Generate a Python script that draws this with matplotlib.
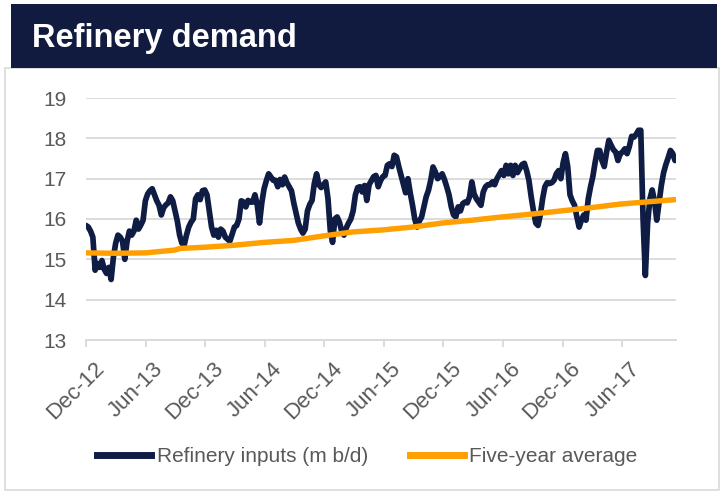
import matplotlib
matplotlib.use("Agg")
import matplotlib.dates as mdates
import matplotlib.pyplot as plt
import matplotlib.transforms as mtransforms
import pandas as pd
from matplotlib.lines import Line2D
from matplotlib.patches import Rectangle

plt.rcParams["font.family"] = ["Liberation Sans", "DejaVu Sans"]

# weekly refinery inputs (m b/d), first week ending 30 Nov 2012
start_week = "2012-11-30"
refinery_inputs = [
    15.84, 15.80, 15.70, 15.55, 14.73, 14.90, 14.80, 14.97, 14.75, 14.65,
    14.80, 14.50, 15.05, 15.40, 15.60, 15.55, 15.45, 15.00, 15.45, 15.70,
    15.60, 15.70, 15.97, 15.75, 15.85, 15.97, 16.45, 16.62, 16.70, 16.75,
    16.60, 16.45, 16.34, 16.10, 16.28, 16.35, 16.40, 16.55, 16.45, 16.20,
    15.95, 15.60, 15.40, 15.35, 15.60, 15.80, 15.92, 16.00, 16.50, 16.60,
    16.48, 16.70, 16.72, 16.60, 16.20, 15.80, 15.60, 15.72, 15.55, 15.75,
    15.70, 15.55, 15.50, 15.45, 15.62, 15.80, 15.84, 16.00, 16.45, 16.42,
    16.30, 16.46, 16.42, 16.42, 16.60, 16.35, 15.90, 16.40, 16.75, 16.95,
    17.12, 17.04, 16.96, 16.96, 16.80, 16.98, 16.85, 17.04, 16.90, 16.80,
    16.70, 16.40, 16.15, 15.90, 15.75, 15.65, 15.75, 16.20, 16.36, 16.46,
    16.88, 17.12, 16.85, 16.78, 16.85, 16.92, 16.50, 15.72, 15.42, 16.00,
    16.05, 15.92, 15.70, 15.60, 15.78, 15.90, 16.00, 16.20, 16.60, 16.78,
    16.80, 16.67, 16.83, 16.46, 16.85, 16.95, 17.05, 17.08, 16.80, 16.95,
    17.05, 17.08, 17.33, 17.37, 17.30, 17.58, 17.54, 17.30, 17.08, 16.85,
    16.65, 17.00, 16.65, 16.35, 16.00, 15.80, 15.95, 16.05, 16.30, 16.55,
    16.71, 16.96, 17.29, 17.17, 17.00, 17.05, 17.12, 16.98, 16.80, 16.60,
    16.30, 16.10, 16.05, 16.30, 16.20, 16.38, 16.42, 16.40, 16.55, 16.92,
    16.62, 16.50, 16.42, 16.34, 16.67, 16.80, 16.85, 16.85, 16.92, 16.85,
    17.00, 17.10, 17.20, 17.08, 17.33, 17.12, 17.33, 17.08, 17.33, 17.15,
    17.25, 17.35, 17.38, 17.20, 16.96, 16.55, 16.20, 15.90, 15.84, 16.10,
    16.50, 16.80, 16.90, 16.88, 16.90, 16.96, 17.12, 17.20, 17.00, 17.40,
    17.62, 17.30, 16.60, 16.45, 16.34, 16.05, 15.80, 15.97, 16.10, 15.97,
    16.50, 16.80, 17.05, 17.40, 17.70, 17.70, 17.45, 17.30, 17.65, 17.95,
    17.83, 17.72, 17.66, 17.45, 17.62, 17.66, 17.74, 17.62, 17.80, 18.05,
    18.03, 18.10, 18.20, 18.20, 16.00, 14.60, 15.90, 16.50, 16.72, 16.45,
    15.97, 16.40, 16.83, 17.15, 17.35, 17.52, 17.70, 17.62, 17.45,
]

# five-year average, read every 13 weeks
avg_weeks = [0, 13, 26, 39, 41, 52, 65, 78, 91, 104, 117, 130, 143, 156,
             169, 182, 195, 208, 221, 234, 247, 258]
five_year_avg = [15.16, 15.15, 15.16, 15.23, 15.27, 15.30, 15.35, 15.42,
                 15.47, 15.58, 15.68, 15.73, 15.80, 15.90, 15.97, 16.05,
                 16.12, 16.20, 16.28, 16.37, 16.43, 16.48]

tick_dates = ["2012-12-01", "2013-06-01", "2013-12-01", "2014-06-01",
              "2014-12-01", "2015-06-01", "2015-12-01", "2016-06-01",
              "2016-12-01", "2017-06-01"]
y_ticks = [13, 14, 15, 16, 17, 18, 19]

navy = "#0f1d45"
orange = "#ff9f00"
grey_text = "#595959"
grid_col = "#d9d9d9"

dates = pd.date_range(start_week, periods=len(refinery_inputs), freq="7D")
avg_dates = dates[avg_weeks]

W, H = 723, 492
fig = plt.figure(figsize=(W / 100, H / 100), dpi=100)

# outer light frame and dark header band
fig.patches.append(Rectangle((5 / W, 1 - 490 / H), 714 / W, 422 / H,
                             transform=fig.transFigure, facecolor="none",
                             edgecolor=grid_col, lw=1.2, zorder=0))
fig.patches.append(Rectangle((11 / W, 1 - 68 / H), 706 / W, 64 / H,
                             transform=fig.transFigure, facecolor="#111b3f",
                             edgecolor="none", zorder=1))
fig.text(32 / W, 1 - 38 / H, "Refinery demand", color="white", fontsize=23.5,
         fontweight="bold", va="center", ha="left")

ax = fig.add_axes([86 / W, 1 - 340 / H, 590 / W, 242 / H])
ax.set_facecolor("none")
ax.plot(dates, refinery_inputs, color=navy, lw=4.1, solid_joinstyle="round",
        solid_capstyle="round", zorder=3)
ax.plot(avg_dates, five_year_avg, color=orange, lw=3.9, solid_joinstyle="round",
        solid_capstyle="round", zorder=4)

ax.set_ylim(13, 19)
ax.set_yticks(y_ticks)
ax.set_xlim(pd.Timestamp("2012-11-30"), dates[-1] + pd.Timedelta(days=3))
ax.set_xticks(pd.to_datetime(tick_dates))
ax.xaxis.set_major_formatter(mdates.DateFormatter("%b-%y"))

ax.grid(axis="y", color=grid_col, lw=1.3)
ax.set_axisbelow(True)
for side in ("top", "right", "left"):
    ax.spines[side].set_visible(False)
ax.spines["bottom"].set_color(grid_col)
ax.spines["bottom"].set_linewidth(1.3)

ax.tick_params(axis="y", length=0, pad=14, labelsize=15, labelcolor=grey_text)
ax.tick_params(axis="x", length=5, width=1.3, color=grid_col, pad=8,
               labelsize=16, labelcolor=grey_text)
shift = mtransforms.ScaledTranslation(7 / 100, 0, fig.dpi_scale_trans)
for lab in ax.get_xticklabels():
    lab.set_rotation(45)
    lab.set_ha("right")
    lab.set_va("top")
    lab.set_rotation_mode("anchor")
    lab.set_transform(lab.get_transform() + shift)

handles = [Line2D([], [], color=navy, lw=5),
           Line2D([], [], color=orange, lw=5)]
fig.legend(handles, ["Refinery inputs (m b/d)", "Five-year average"],
           loc="center", bbox_to_anchor=(0.508, 1 - 457 / H), ncol=2,
           frameon=False, fontsize=15, labelcolor=grey_text,
           handlelength=2.6, handletextpad=0.25, columnspacing=2.0)

fig.savefig("out.png", dpi=100)
